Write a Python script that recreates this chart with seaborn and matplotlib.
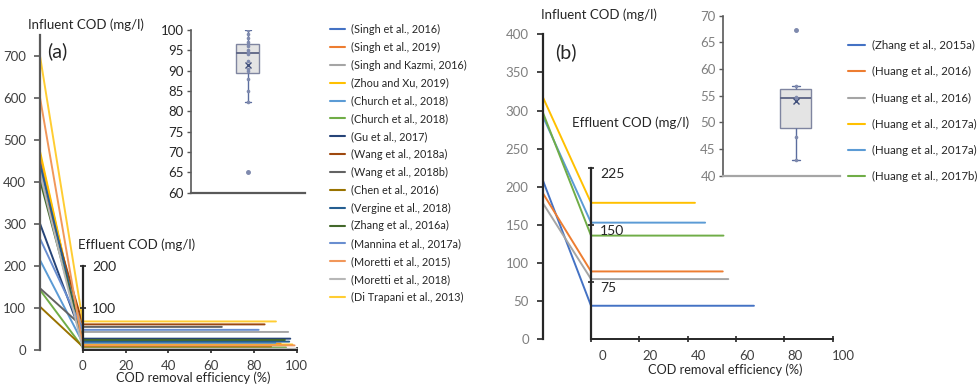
import numpy as np
import pandas as pd
import matplotlib
matplotlib.use("Agg")
import matplotlib.pyplot as plt
import matplotlib.transforms as mtransforms
from matplotlib.lines import Line2D
import seaborn as sns

sns.set_theme(style="white")
plt.rcParams["font.family"] = ["Lato", "DejaVu Sans"]

# ---------------- Panel (a) data ----------------
studies_a = [
    "(Singh et al., 2016)", "(Singh et al., 2019)", "(Singh and Kazmi, 2016)",
    "(Zhou and Xu, 2019)", "(Church et al., 2018)", "(Church et al., 2018)",
    "(Gu et al., 2017)", "(Wang et al., 2018a)", "(Wang et al., 2018b)",
    "(Chen et al., 2016)", "(Vergine et al., 2018)", "(Zhang et al., 2016a)",
    "(Mannina et al., 2017a)", "(Moretti et al., 2015)", "(Moretti et al., 2018)",
    "(Di Trapani et al., 2013)",
]
colors_a = [
    "#4472C4", "#ED7D31", "#A5A5A5", "#FFC000", "#5B9BD5", "#70AD47",
    "#264478", "#9E480E", "#636363", "#997300", "#255E91", "#43682B",
    "#698ED0", "#F1975A", "#B7B7B7", "#FFCD33",
]
influent_a = [456, 465, 428, 473, 214, 143, 301, 412, 147, 103, 444, 404, 265, 601, 420, 700]
effluent_a = [22, 15, 43, 13, 17, 6, 27, 61, 55, 8, 20, 24, 48, 11, 3, 68]
removal_a = [94, 92.5, 96, 98, 90, 95, 97, 85, 65, 88, 96.5, 94.5, 82.2, 99, 100, 90.3]

# ---------------- Panel (b) data ----------------
studies_b = [
    "(Zhang et al., 2015a)", "(Huang et al., 2016)", "(Huang et al., 2016)",
    "(Huang et al., 2017a)", "(Huang et al., 2017a)", "(Huang et al., 2017b)",
]
colors_b = ["#4472C4", "#ED7D31", "#A5A5A5", "#FFC000", "#5B9BD5", "#70AD47"]
influent_b = [209, 192, 179, 318, 293, 298]
effluent_b = [44, 89, 79, 179, 153, 136]
removal_b = [67.4, 54.5, 56.8, 43, 47.2, 54.8]

INF_X = -20  # position of the influent axis on the efficiency scale


def long_form(influent, effluent, removal):
    rows = []
    for i, (inf, eff, rem) in enumerate(zip(influent, effluent, removal)):
        rows += [(i, INF_X, inf), (i, 0, eff), (i, rem, eff)]
    return pd.DataFrame(rows, columns=["sid", "x", "y"])


fig = plt.figure(figsize=(9.77, 3.92), dpi=100)
fig.patch.set_facecolor("white")

W, H = 977, 392


def px_axes(left, top, right, bottom):
    return fig.add_axes([left / W, 1 - bottom / H, (right - left) / W, (bottom - top) / H])


def draw_panel(ax, df, colors, ymax, yticks, eff_top, eff_ticks, spine_col, tick_col,
               label_shift=0, eff_label_drop=0):
    sns.lineplot(data=df, x="x", y="y", hue="sid", palette=colors, sort=False,
                 estimator=None, legend=False, lw=1.4, ax=ax)
    ax.set_xlim(INF_X, 105)
    ax.set_ylim(0, ymax)
    ax.set_xlabel("")
    ax.set_ylabel("")
    for s in ["top", "right"]:
        ax.spines[s].set_visible(False)
    ax.spines["left"].set_color(spine_col)
    ax.spines["left"].set_linewidth(1.6)
    ax.spines["left"].set_bounds(0, ymax)
    ax.spines["bottom"].set_color("#262626")
    ax.spines["bottom"].set_linewidth(1.4)
    ax.spines["bottom"].set_bounds(0, 100)
    ax.set_yticks(yticks)
    ax.set_xticks([0, 20, 40, 60, 80, 100])
    ax.tick_params(axis="y", direction="out", length=4, width=1.2, color=spine_col,
                   labelsize=9.5, labelcolor=tick_col, pad=6, left=True)
    ax.tick_params(axis="x", direction="inout", length=5, width=1.2, color="#262626",
                   labelsize=9.5, labelcolor="#404040", pad=5, bottom=True)
    if label_shift:
        off = mtransforms.ScaledTranslation(label_shift / 100, 0, fig.dpi_scale_trans)
        for lab in ax.get_xticklabels():
            lab.set_transform(lab.get_transform() + off)

    eff = ax.twinx()
    eff.set_ylim(0, ymax)
    for s in ["top", "left", "bottom"]:
        eff.spines[s].set_visible(False)
    eff.spines["right"].set_position(("data", 0))
    eff.spines["right"].set_bounds(0, eff_top)
    eff.spines["right"].set_color("#262626")
    eff.spines["right"].set_linewidth(1.6)
    eff.set_yticks(eff_ticks)
    eff.tick_params(axis="y", direction="inout", length=5, width=1.2, color="#262626",
                    labelsize=10, labelcolor="#262626", pad=4, right=True)
    if eff_label_drop:
        off = mtransforms.ScaledTranslation(0, -eff_label_drop / 100, fig.dpi_scale_trans)
        for lab in eff.get_yticklabels():
            lab.set_transform(lab.get_transform() + off)
    eff.grid(False)
    ax.grid(False)
    return eff


def draw_box(ax, values, width, ymin, ymax, yticks, xlim, label_col, base_col):
    sns.boxplot(y=values, width=width, ax=ax, color="#E4E4E4", linecolor="#7F85A0",
                linewidth=1.0, fliersize=2.5, showmeans=True, capwidths=0.25 * width,
                meanprops=dict(marker="x", markeredgecolor="#3F4E7A", markersize=5,
                               markeredgewidth=1.0),
                medianprops=dict(color="#5C6484", linewidth=1.3),
                whiskerprops=dict(color="#5A6C9E", linewidth=1.0),
                capprops=dict(color="#5A6C9E", linewidth=1.0),
                flierprops=dict(marker="o", markerfacecolor="#7F8AAE",
                                markeredgecolor="#7F8AAE"))
    sns.stripplot(y=values, jitter=False, size=2.6, color="#7F8AAE", ax=ax, zorder=5)
    ax.set_xlim(*xlim)
    ax.set_ylim(ymin, ymax)
    ax.set_yticks(yticks)
    ax.set_xticks([])
    ax.set_ylabel("")
    ax.patch.set_alpha(0)
    for s in ["top", "right"]:
        ax.spines[s].set_visible(False)
    ax.spines["left"].set_color("#595959")
    ax.spines["left"].set_linewidth(1.2)
    ax.spines["bottom"].set_color(base_col)
    ax.spines["bottom"].set_linewidth(1.6)
    ax.tick_params(axis="y", direction="out", length=3, width=1.0, color="#595959",
                   labelsize=9.5, labelcolor=label_col, pad=2, left=True)
    ax.grid(False)


# ---------------- Panel (a) ----------------
ax_a = px_axes(40, 35, 307.4, 350)
draw_panel(ax_a, long_form(influent_a, effluent_a, removal_a), colors_a, 750,
           list(range(0, 701, 100)), 200, [100, 200], "#595959", "#404040")
fig.text(28 / W, 1 - 25 / H, "Influent COD (mg/l)", fontsize=9.5, color="#262626",
         va="center", ha="left")
fig.text(47 / W, 1 - 51 / H, "(a)", fontsize=14, color="#262626", va="center", ha="left")
fig.text(78 / W, 1 - 245 / H, "Effluent COD (mg/l)", fontsize=9.5, color="#262626",
         va="center", ha="left")
fig.text(193 / W, 1 - 378 / H, "COD removal efficiency (%)", fontsize=9.2,
         color="#262626", va="center", ha="center")

box_a = px_axes(190.7, 30, 305, 192.7)
draw_box(box_a, removal_a, 0.2, 60, 100, list(range(60, 101, 5)), (-0.5, 0.5),
         "#262626", "#595959")

handles_a = [Line2D([0], [0], color=c, lw=1.5) for c in colors_a]
fig.legend(handles_a, studies_a, loc="upper left", bbox_to_anchor=(330 / W, 1 - 24 / H),
           frameon=False, fontsize=7.8, handlelength=1.4, handletextpad=0.55,
           labelspacing=0.63, borderaxespad=0, borderpad=0, labelcolor="#262626")

# ---------------- Panel (b) ----------------
ax_b = px_axes(542.7, 34.3, 844.8, 339.3)
draw_panel(ax_b, long_form(influent_b, effluent_b, removal_b), colors_b, 400,
           list(range(0, 401, 50)), 225, [75, 150, 225], "#262626", "#7F7F7F",
           label_shift=11, eff_label_drop=5)
fig.text(541 / W, 1 - 15 / H, "Influent COD (mg/l)", fontsize=9.5, color="#262626",
         va="center", ha="left")
fig.text(555 / W, 1 - 52 / H, "(b)", fontsize=14, color="#262626", va="center", ha="left")
fig.text(572 / W, 1 - 123 / H, "Effluent COD (mg/l)", fontsize=9.5, color="#262626",
         va="center", ha="left")
fig.text(725 / W, 1 - 370 / H, "COD removal efficiency (%)", fontsize=9.2,
         color="#262626", va="center", ha="center")

box_b = px_axes(722.7, 15.7, 840, 175.7)
draw_box(box_b, removal_b, 0.27, 40, 70, list(range(40, 71, 5)), (-0.636, 0.386),
         "#7F7F7F", "#A5A5A5")

handles_b = [Line2D([0], [0], color=c, lw=1.5) for c in colors_b]
fig.legend(handles_b, studies_b, loc="upper left", bbox_to_anchor=(848 / W, 1 - 40 / H),
           frameon=False, fontsize=8.3, handlelength=1.48, handletextpad=0.6,
           labelspacing=1.32, borderaxespad=0, borderpad=0, labelcolor="#262626")

fig.savefig("out.png", dpi=100, facecolor="white")
